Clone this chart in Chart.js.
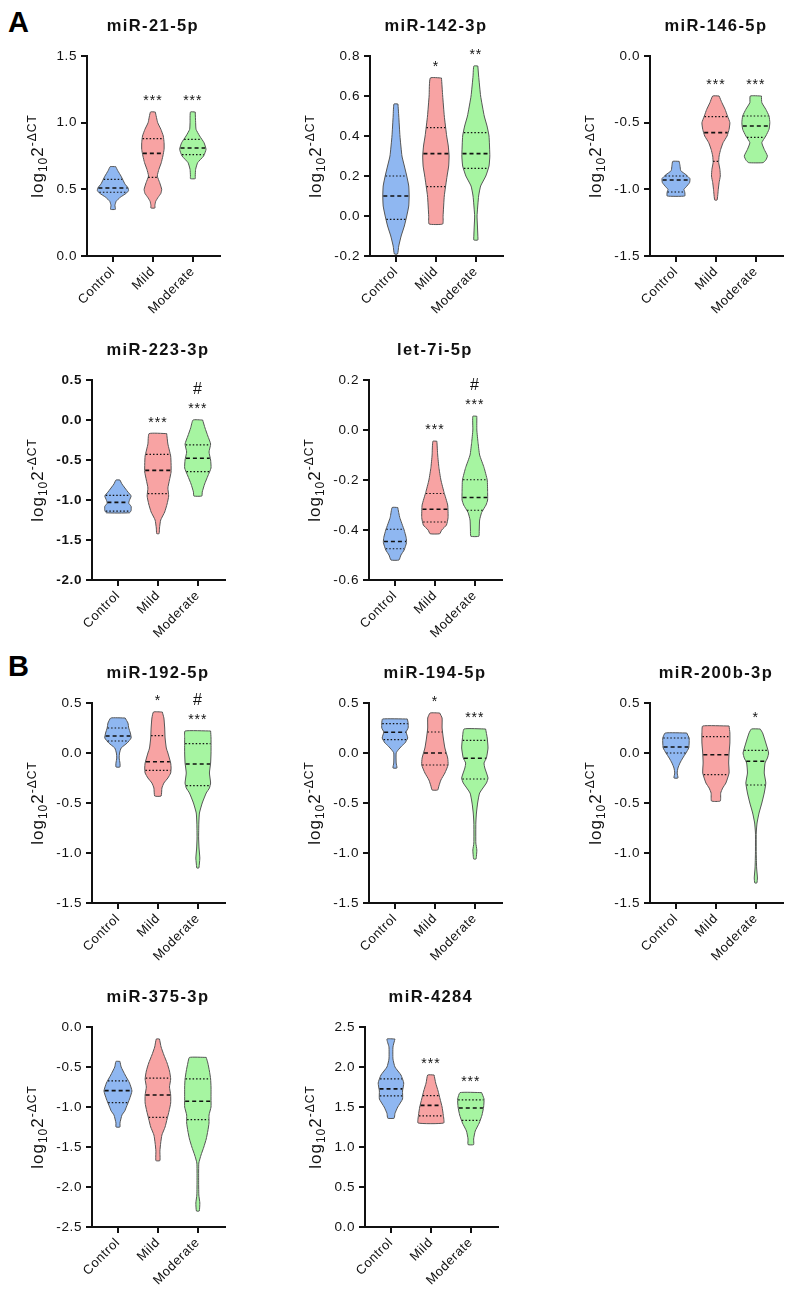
<!DOCTYPE html>
<html>
<head>
<meta charset="utf-8">
<script src="https://cdn.jsdelivr.net/npm/chart.js@4.4.1/dist/chart.umd.min.js"></script>
<style>
  body { margin: 0; background: #fff; }
  #fig { position: relative; width: 792px; height: 1294px; overflow: hidden; font-family: "Liberation Sans", Arial, sans-serif; }
  #fig canvas { position: absolute; }
  .panel { position: absolute; font-weight: bold; font-size: 29px; line-height: 1; color: #000; }
</style>
</head>
<body>
<div id="fig">
  <div class="panel" style="left:8px;top:8px">A</div>
  <div class="panel" style="left:8px;top:652px">B</div>
</div>
<script>
const groups = ['Control', 'Mild', 'Moderate'];
const titles = ['miR-21-5p', 'miR-142-3p', 'miR-146-5p', 'miR-223-3p', 'let-7i-5p',
                'miR-192-5p', 'miR-194-5p', 'miR-200b-3p', 'miR-375-3p', 'miR-4284'];
const yMin  = [0, -0.2, -1.5, -2.0, -0.6, -1.5, -1.5, -1.5, -2.5, 0];
const yMax  = [1.5, 0.8, 0, 0.5, 0.2, 0.5, 0.5, 0.5, 0, 2.5];
const yStep = [0.5, 0.2, 0.5, 0.5, 0.2, 0.5, 0.5, 0.5, 0.5, 0.5];

// quartiles per chart: [Control, Mild, Moderate]
const q1s  = [[0.478, 0.59, 0.76], [-0.017, 0.147, 0.238], [-1.02, -0.79, -0.61], [-1.14, -0.92, -0.645], [-0.475, -0.368, -0.321],
              [0.12, -0.173, -0.327], [0.133, -0.12, -0.26], [0.0, -0.217, -0.32], [-0.945, -1.13, -1.158], [1.64, 1.39, 1.334]];
const meds = [[0.51, 0.77, 0.81], [0.1, 0.312, 0.312], [-0.93, -0.575, -0.525], [-1.03, -0.63, -0.478], [-0.446, -0.317, -0.27],
              [0.17, -0.087, -0.11], [0.207, 0.0, -0.053], [0.06, -0.017, -0.083], [-0.795, -0.85, -0.928], [1.727, 1.52, 1.488]];
const q3s  = [[0.575, 0.88, 0.875], [0.2, 0.442, 0.417], [-0.90, -0.455, -0.45], [-0.943, -0.43, -0.31], [-0.397, -0.254, -0.199],
              [0.25, 0.173, 0.093], [0.293, 0.21, 0.127], [0.15, 0.163, 0.027], [-0.673, -0.64, -0.648], [1.852, 1.643, 1.59]];

const stars  = [['', '***', '***'], ['', '*', '**'], ['', '***', '***'], ['', '***', '***'], ['', '***', '***'],
                ['', '*', '***'], ['', '*', '***'], ['', '', '*'], ['', '', ''], ['', '***', '***']];
const hashes = [['', '', ''], ['', '', ''], ['', '', ''], ['', '', '#'], ['', '', '#'],
                ['', '', '#'], ['', '', ''], ['', '', ''], ['', '', ''], ['', '', '']];

// violin outlines, top to bottom: [value, half width in group units]
const shape21 = [
  [[0.67,0.07],[0.64,0.12],[0.60,0.20],[0.57,0.25],[0.54,0.30],[0.51,0.38],[0.49,0.39],[0.47,0.33],[0.44,0.18],[0.41,0.08],[0.38,0.05],[0.35,0.06]],
  [[1.08,0.06],[1.0,0.12],[0.95,0.2],[0.9,0.26],[0.85,0.28],[0.8,0.28],[0.75,0.25],[0.7,0.21],[0.65,0.15],[0.6,0.11],[0.55,0.17],[0.5,0.22],[0.47,0.2],[0.44,0.13],[0.41,0.07],[0.38,0.05],[0.36,0.05]],
  [[1.08,0.06],[1.0,0.07],[0.95,0.08],[0.9,0.17],[0.85,0.28],[0.8,0.33],[0.75,0.27],[0.7,0.12],[0.65,0.07],[0.6,0.06],[0.58,0.06]]
];
const shape142 = [
  [[0.56,0.05],[0.5,0.07],[0.4,0.1],[0.3,0.15],[0.25,0.21],[0.2,0.27],[0.15,0.32],[0.1,0.33],[0.05,0.32],[0.0,0.27],[-0.05,0.21],[-0.1,0.13],[-0.15,0.07],[-0.19,0.04]],
  [[0.69,0.14],[0.6,0.17],[0.5,0.21],[0.4,0.27],[0.35,0.31],[0.3,0.33],[0.25,0.32],[0.2,0.28],[0.1,0.21],[0.0,0.18],[-0.04,0.17]],
  [[0.75,0.05],[0.7,0.07],[0.6,0.12],[0.5,0.21],[0.45,0.28],[0.4,0.33],[0.3,0.35],[0.25,0.33],[0.2,0.25],[0.15,0.12],[0.1,0.07],[0.0,0.03],[-0.05,0.04],[-0.1,0.05],[-0.12,0.05]]
];
const shape146 = [
  [[-0.79,0.08],[-0.82,0.1],[-0.86,0.12],[-0.89,0.25],[-0.92,0.35],[-0.95,0.34],[-0.98,0.26],[-1.0,0.2],[-1.02,0.22],[-1.05,0.22]],
  [[-0.3,0.08],[-0.35,0.15],[-0.4,0.23],[-0.45,0.29],[-0.5,0.35],[-0.55,0.33],[-0.6,0.28],[-0.65,0.18],[-0.7,0.12],[-0.75,0.08],[-0.8,0.07],[-0.85,0.1],[-0.9,0.11],[-0.95,0.08],[-1.0,0.06],[-1.08,0.03]],
  [[-0.3,0.14],[-0.35,0.15],[-0.4,0.25],[-0.45,0.33],[-0.5,0.35],[-0.55,0.33],[-0.6,0.25],[-0.65,0.15],[-0.7,0.21],[-0.75,0.29],[-0.78,0.25],[-0.8,0.18]]
];
const shape223 = [
  [[-0.75,0.05],[-0.8,0.1],[-0.9,0.25],[-0.95,0.33],[-1.0,0.29],[-1.04,0.27],[-1.08,0.33],[-1.13,0.33],[-1.16,0.29]],
  [[-0.17,0.22],[-0.3,0.25],[-0.45,0.32],[-0.55,0.33],[-0.65,0.33],[-0.75,0.29],[-0.85,0.25],[-0.95,0.27],[-1.05,0.23],[-1.15,0.17],[-1.25,0.07],[-1.35,0.04],[-1.42,0.03]],
  [[0.0,0.12],[-0.1,0.18],[-0.2,0.25],[-0.3,0.32],[-0.4,0.28],[-0.5,0.32],[-0.6,0.33],[-0.7,0.25],[-0.8,0.17],[-0.9,0.11],[-0.95,0.1]]
];
const shapeLet7i = [
  [[-0.31,0.07],[-0.35,0.12],[-0.4,0.23],[-0.43,0.28],[-0.45,0.29],[-0.48,0.23],[-0.5,0.15],[-0.52,0.1]],
  [[-0.045,0.05],[-0.1,0.07],[-0.15,0.1],[-0.2,0.15],[-0.25,0.23],[-0.3,0.32],[-0.35,0.33],[-0.38,0.29],[-0.4,0.17],[-0.415,0.12]],
  [[0.055,0.05],[0.0,0.05],[-0.05,0.08],[-0.1,0.12],[-0.15,0.23],[-0.2,0.31],[-0.25,0.32],[-0.28,0.32],[-0.3,0.28],[-0.33,0.17],[-0.36,0.12],[-0.4,0.11],[-0.425,0.1]]
];
const shape192 = [
  [[0.35,0.18],[0.3,0.25],[0.25,0.27],[0.2,0.31],[0.15,0.33],[0.1,0.23],[0.05,0.08],[0.0,0.04],[-0.05,0.03],[-0.1,0.05],[-0.14,0.05]],
  [[0.41,0.11],[0.35,0.15],[0.25,0.17],[0.15,0.18],[0.05,0.21],[0.0,0.25],[-0.1,0.32],[-0.15,0.33],[-0.2,0.32],[-0.25,0.25],[-0.3,0.15],[-0.35,0.1],[-0.43,0.08]],
  [[0.22,0.32],[0.15,0.33],[0.0,0.33],[-0.1,0.32],[-0.2,0.29],[-0.3,0.32],[-0.35,0.29],[-0.4,0.21],[-0.5,0.11],[-0.6,0.04],[-0.7,0.025],[-0.85,0.02],[-0.95,0.03],[-1.05,0.05],[-1.1,0.04],[-1.15,0.025]]
];
const shape194 = [
  [[0.34,0.31],[0.3,0.33],[0.25,0.33],[0.21,0.28],[0.15,0.32],[0.1,0.25],[0.07,0.17],[0.03,0.08],[0.0,0.03],[-0.1,0.03],[-0.15,0.05]],
  [[0.4,0.12],[0.35,0.18],[0.25,0.18],[0.15,0.21],[0.05,0.25],[-0.05,0.32],[-0.12,0.33],[-0.2,0.25],[-0.27,0.15],[-0.33,0.1],[-0.37,0.07]],
  [[0.24,0.27],[0.15,0.31],[0.05,0.33],[-0.05,0.29],[-0.1,0.23],[-0.15,0.25],[-0.25,0.33],[-0.3,0.29],[-0.4,0.12],[-0.5,0.07],[-0.6,0.04],[-0.7,0.025],[-0.9,0.025],[-0.97,0.05],[-1.03,0.04],[-1.06,0.03]]
];
const shape200b = [
  [[0.2,0.27],[0.15,0.33],[0.1,0.33],[0.05,0.32],[0.0,0.25],[-0.05,0.17],[-0.1,0.1],[-0.15,0.05],[-0.2,0.03],[-0.25,0.05]],
  [[0.27,0.33],[0.2,0.35],[0.1,0.35],[0.0,0.33],[-0.1,0.32],[-0.2,0.33],[-0.3,0.25],[-0.35,0.17],[-0.4,0.12],[-0.48,0.11]],
  [[0.24,0.11],[0.2,0.17],[0.1,0.25],[0.0,0.32],[-0.05,0.29],[-0.1,0.23],[-0.2,0.21],[-0.3,0.25],[-0.4,0.21],[-0.5,0.15],[-0.6,0.08],[-0.7,0.03],[-0.8,0.01],[-1.0,0.01],[-1.15,0.02],[-1.25,0.04],[-1.3,0.025]]
];
const shape375 = [
  [[-0.43,0.05],[-0.5,0.08],[-0.6,0.18],[-0.7,0.29],[-0.8,0.35],[-0.9,0.29],[-1.0,0.21],[-1.05,0.17],[-1.1,0.1],[-1.2,0.05],[-1.25,0.05]],
  [[-0.15,0.04],[-0.25,0.08],[-0.35,0.15],[-0.45,0.23],[-0.55,0.29],[-0.65,0.32],[-0.75,0.29],[-0.85,0.32],[-0.95,0.32],[-1.05,0.28],[-1.15,0.23],[-1.25,0.18],[-1.35,0.1],[-1.45,0.07],[-1.55,0.05],[-1.67,0.05]],
  [[-0.38,0.21],[-0.45,0.25],[-0.55,0.29],[-0.65,0.32],[-0.75,0.33],[-0.9,0.33],[-1.0,0.33],[-1.1,0.28],[-1.2,0.28],[-1.3,0.25],[-1.4,0.21],[-1.5,0.15],[-1.6,0.08],[-1.7,0.025],[-1.9,0.02],[-2.1,0.025],[-2.2,0.05],[-2.3,0.035]]
];
const shape4284 = [
  [[2.35,0.1],[2.25,0.05],[2.1,0.05],[2.0,0.1],[1.9,0.25],[1.8,0.32],[1.7,0.29],[1.6,0.29],[1.5,0.17],[1.42,0.1],[1.36,0.08]],
  [[1.9,0.08],[1.8,0.12],[1.7,0.18],[1.6,0.23],[1.5,0.28],[1.4,0.31],[1.3,0.32]],
  [[1.68,0.27],[1.6,0.33],[1.5,0.32],[1.4,0.28],[1.3,0.21],[1.2,0.11],[1.1,0.07],[1.03,0.07]]
];
const shapes = [shape21, shape142, shape146, shape223, shapeLet7i, shape192, shape194, shape200b, shape375, shape4284];

// where each plot area sits on the page (left axis x, top y)
const boxes = [
  {x: 87, y: 56}, {x: 370, y: 56}, {x: 650, y: 56},
  {x: 92, y: 380, bold: true}, {x: 369, y: 380},
  {x: 92, y: 703}, {x: 369, y: 703}, {x: 650, y: 703},
  {x: 92, y: 1027}, {x: 365, y: 1027}
];
const fills = ['#8fb7f1', '#f8a3a3', '#a6f5a1'];
const FONT = '"Liberation Sans", Arial, Helvetica, sans-serif';

function outline(prof, g) {
  const right = prof.map(p => ({x: g + p[1], y: p[0]}));
  const left = prof.slice().reverse().map(p => ({x: g - p[1], y: p[0]}));
  const pts = right.concat(left);
  pts.push(pts[0]);
  return pts;
}

// half width of the outline at a value, for the quartile lines
function halfAt(prof, v) {
  for (let k = 0; k < prof.length - 1; k++) {
    const a = prof[k], b = prof[k + 1];
    if (v <= a[0] && v >= b[0]) {
      const t = (a[0] - v) / (a[0] - b[0]);
      return a[1] + (b[1] - a[1]) * t;
    }
  }
  return 0;
}

function qLine(prof, g, v, dash, w) {
  const h = halfAt(prof, v) * 0.96;
  return {
    data: [{x: g - h, y: v}, {x: g + h, y: v}],
    showLine: true, fill: false, borderColor: '#111', borderWidth: w, borderDash: dash,
    pointRadius: 0, pointHoverRadius: 0, order: 0
  };
}

const textPlugin = {
  id: 'violinText',
  beforeDraw(chart) { chart.ctx.letterSpacing = '0.6px'; },
  afterDraw(chart, args, opts) {
    const i = opts.idx;
    const {ctx, chartArea: a} = chart;
    const xs = chart.scales.x, ys = chart.scales.y;
    ctx.save();
    ctx.fillStyle = '#111';
    ctx.textAlign = 'center';
    ctx.textBaseline = 'alphabetic';

    ctx.letterSpacing = '1.4px';
    ctx.font = 'bold 16.5px ' + FONT;
    ctx.fillText(titles[i], xs.getPixelForValue(1), a.top - 25);

    ctx.letterSpacing = '1px';
    groups.forEach((g, k) => {
      const px = xs.getPixelForValue(k);
      const top = ys.getPixelForValue(shapes[i][k][0][0]);
      if (stars[i][k]) { ctx.font = '14px ' + FONT; ctx.fillText(stars[i][k], px, top - 7); }
      if (hashes[i][k]) { ctx.font = '16px ' + FONT; ctx.fillText(hashes[i][k], px, top - 26); }
    });

    // y axis title log10 2^-ΔCT
    ctx.letterSpacing = '0.6px';
    ctx.font = (opts.bold ? 'bold ' : '') + '13.5px ' + FONT;
    const labW = Math.max(...ys.ticks.map(t => ctx.measureText(t.label).width));
    const cx = a.left - 10 - labW - 18;
    const cy = (a.top + a.bottom) / 2;
    const parts = [['log', 17, 0], ['10', 12, 4], ['2', 17, 0], ['-\u0394CT', 12, -7]];
    ctx.letterSpacing = '1px';
    let total = 0;
    parts.forEach(p => { ctx.font = p[1] + 'px ' + FONT; p.push(ctx.measureText(p[0]).width); total += p[3]; });
    ctx.translate(cx + 5, cy);
    ctx.rotate(-Math.PI / 2);
    ctx.textAlign = 'left';
    let u = -total / 2;
    parts.forEach(p => { ctx.font = p[1] + 'px ' + FONT; ctx.fillText(p[0], u, p[2]); u += p[3]; });
    ctx.restore();
  }
};

const fig = document.getElementById('fig');

titles.forEach((t, i) => {
  const b = boxes[i];
  const cv = document.createElement('canvas');
  cv.width = 234; cv.height = 330;
  cv.style.left = (b.x - 95) + 'px';
  cv.style.top = (b.y - 56) + 'px';
  fig.appendChild(cv);

  const datasets = [];
  shapes[i].forEach((prof, g) => {
    datasets.push(qLine(prof, g, meds[i][g], [4, 3], 1.6));
    datasets.push(qLine(prof, g, q1s[i][g], [1.5, 2], 1.2));
    datasets.push(qLine(prof, g, q3s[i][g], [1.5, 2], 1.2));
    datasets.push({
      data: outline(prof, g), showLine: true, fill: 'shape', tension: 0.15,
      backgroundColor: fills[g], borderColor: '#555', borderWidth: 1,
      pointRadius: 0, pointHoverRadius: 0, order: 1
    });
  });

  const tickFont = {family: FONT, size: 13.5, weight: b.bold ? 'bold' : 'normal'};
  const axisGrid = {display: true, drawOnChartArea: false, drawTicks: true, tickLength: 6, lineWidth: 2, color: '#111'};
  const axisBorder = {display: true, width: 2, color: '#111'};

  new Chart(cv.getContext('2d'), {
    type: 'scatter',
    data: {datasets},
    plugins: [textPlugin],
    options: {
      responsive: false,
      animation: false,
      devicePixelRatio: 1,
      layout: {padding: {left: 45, top: 56, right: 6, bottom: 0}},
      plugins: {
        legend: {display: false},
        tooltip: {enabled: false},
        violinText: {idx: i, bold: !!b.bold}
      },
      scales: {
        x: {
          type: 'linear', min: -0.65, max: 2.68,
          afterFit: s => { s.height = 74; },
          afterBuildTicks: s => { s.ticks = groups.map((g, k) => ({value: k})); },
          ticks: {
            autoSkip: false, minRotation: 45, maxRotation: 45, padding: 2,
            color: '#111', font: {family: FONT, size: 13},
            callback: v => groups[v]
          },
          grid: axisGrid, border: axisBorder
        },
        y: {
          min: yMin[i], max: yMax[i],
          afterFit: s => { s.width = 50; },
          ticks: {
            stepSize: yStep[i], padding: 4, color: '#111', font: tickFont,
            callback: v => v.toFixed(1)
          },
          grid: axisGrid, border: axisBorder
        }
      }
    }
  });
});
</script>
</body>
</html>
